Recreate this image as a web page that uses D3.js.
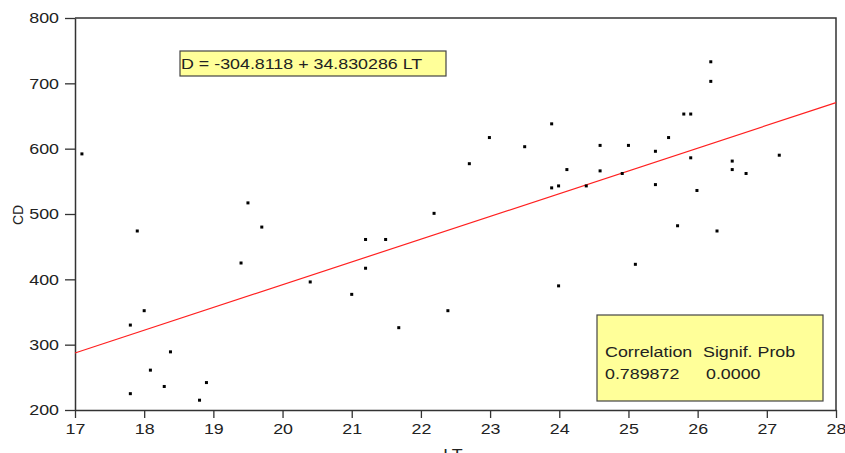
<!DOCTYPE html>
<html>
<head>
<meta charset="utf-8">
<script src="https://cdn.jsdelivr.net/npm/d3@7"></script>
<style>
  body { margin: 0; background: #fff; }
  text { font-family: "Liberation Sans", Arial, sans-serif; fill: #222; }
</style>
</head>
<body>
<div id="chart"></div>
<script>
// data
var lt = [17.1, 17.9, 18.0, 17.8, 18.38, 18.09, 18.29, 17.8, 18.9, 18.8,
  19.4, 19.5, 19.7, 20.4, 21.0, 21.2, 21.2, 21.49, 21.68, 22.19,
  22.39, 22.7, 22.99, 23.5, 23.89, 23.89, 23.99, 23.99, 24.11, 24.39,
  24.59, 24.59, 24.91, 25.0, 25.1, 25.39, 25.39, 25.58, 25.71, 25.8,
  25.9, 25.9, 25.99, 26.19, 26.19, 26.28, 26.5, 26.5, 26.7, 27.18];
var cd = [592, 474, 352, 330, 289, 261, 236, 225, 242, 215,
  425, 517, 480, 396, 377, 461, 417, 461, 326, 501,
  352, 577, 617, 603, 638, 540, 543, 390, 568, 543,
  605, 566, 562, 605, 423, 596, 545, 617, 482, 653,
  653, 586, 536, 733, 703, 474, 581, 568, 562, 590];
var xTicks = [17, 18, 19, 20, 21, 22, 23, 24, 25, 26, 27, 28];
var yTicks = [200, 300, 400, 500, 600, 700, 800];
var intercept = -304.8118;
var slope = 34.830286;
var equation = "D = -304.8118 + 34.830286 LT";
var statHeader = ["Correlation", "Signif. Prob"];
var statValues = ["0.789872", "0.0000"];

var W = 845, H = 453;
var margin = { top: 18, right: 9, bottom: 43, left: 75 };
var width = W - margin.left - margin.right,
    height = H - margin.top - margin.bottom;
var stretch = 1.19; // the source picture is a bit wider than tall

var x = d3.scaleLinear().domain([17, 28]).range([0, width]);
var y = d3.scaleLinear().domain([200, 800]).range([height, 0]);

var svg = d3.select("#chart").append("svg")
  .attr("width", W)
  .attr("height", H);

var g = svg.append("g")
  .attr("transform", "translate(" + margin.left + "," + margin.top + ")");

function label(px, py, txt, size) {
  return svg.append("text")
    .attr("transform", "translate(" + px + "," + py + ") scale(" + stretch + ",1)")
    .attr("font-size", size || 15)
    .text(txt);
}

// frame top + right
g.append("path")
  .attr("d", "M0,0H" + width + "V" + height)
  .attr("fill", "none")
  .attr("stroke", "#333")
  .attr("stroke-width", 1.5);

// x axis
var xAxis = g.append("g")
  .attr("transform", "translate(0," + height + ")")
  .call(d3.axisBottom(x).tickValues(xTicks).tickSize(8).tickSizeOuter(0).tickPadding(5));
// y axis
var yAxis = g.append("g")
  .call(d3.axisLeft(y).tickValues(yTicks).tickSize(10).tickSizeOuter(0));

[xAxis, yAxis].forEach(function (a) {
  a.select(".domain").attr("stroke", "#333").attr("stroke-width", 1.5);
  a.selectAll(".tick line").attr("stroke", "#333").attr("stroke-width", 1.3);
  a.selectAll(".tick text")
    .style("font-family", '"Liberation Sans", Arial, sans-serif')
    .attr("font-size", 15)
    .attr("fill", "#222")
    .attr("transform", "scale(" + stretch + ",1)");
});
yAxis.selectAll(".tick text").attr("x", -16 / stretch);

// regression line
var fitLine = d3.line()
  .x(function (d) { return x(d); })
  .y(function (d) { return y(intercept + slope * d); });
g.append("path")
  .datum(x.domain())
  .attr("d", fitLine)
  .attr("fill", "none")
  .attr("stroke", "#ff2020")
  .attr("stroke-width", 1.2);

// points
g.selectAll("rect.pt")
  .data(lt)
  .enter().append("rect")
  .attr("class", "pt")
  .attr("x", function (d) { return x(d) - 1.5; })
  .attr("y", function (d, i) { return y(cd[i]) - 1.5; })
  .attr("width", 3)
  .attr("height", 3)
  .attr("fill", "#000");

// axis titles
svg.append("text")
  .attr("transform", "translate(23,215) rotate(-90)")
  .attr("text-anchor", "middle")
  .attr("font-size", 14)
  .text("CD");
label(453, 459, "LT").attr("text-anchor", "middle");

// equation box
svg.append("rect")
  .attr("x", 180).attr("y", 51)
  .attr("width", 266).attr("height", 25)
  .attr("fill", "#ffff99")
  .attr("stroke", "#444")
  .attr("stroke-width", 1.2);
label(181, 69, equation);

// stats box
svg.append("rect")
  .attr("x", 597).attr("y", 315)
  .attr("width", 226).attr("height", 86)
  .attr("fill", "#ffff99")
  .attr("stroke", "#444")
  .attr("stroke-width", 1.2);
label(605, 357, statHeader[0]);
label(703, 357, statHeader[1]);
label(605, 379, statValues[0]);
label(706, 379, statValues[1]);
</script>
</body>
</html>
